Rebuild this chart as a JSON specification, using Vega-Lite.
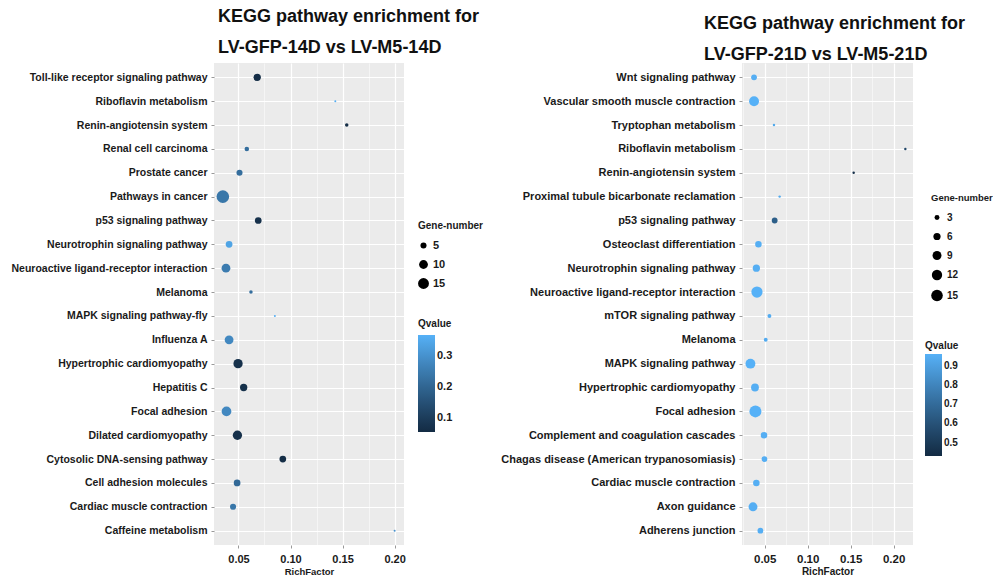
{
  "$schema": "https://vega.github.io/schema/vega-lite/v6.json",
  "background": "white",
  "padding": {"left": 10, "top": 8, "right": 0, "bottom": 0},
  "spacing": 16,
  "datasets": {
    "left": [
      {"pathway": "Toll-like receptor signaling pathway", "rich": 0.068, "gene": 7, "q": 0.06},
      {"pathway": "Riboflavin metabolism", "rich": 0.143, "gene": 1, "q": 0.36},
      {"pathway": "Renin-angiotensin system", "rich": 0.154, "gene": 2, "q": 0.06},
      {"pathway": "Renal cell carcinoma", "rich": 0.058, "gene": 3, "q": 0.22},
      {"pathway": "Prostate cancer", "rich": 0.051, "gene": 5, "q": 0.22},
      {"pathway": "Pathways in cancer", "rich": 0.035, "gene": 20, "q": 0.24},
      {"pathway": "p53 signaling pathway", "rich": 0.069, "gene": 6, "q": 0.07},
      {"pathway": "Neurotrophin signaling pathway", "rich": 0.041, "gene": 6, "q": 0.34},
      {"pathway": "Neuroactive ligand-receptor interaction", "rich": 0.038, "gene": 10, "q": 0.25},
      {"pathway": "Melanoma", "rich": 0.062, "gene": 2, "q": 0.22},
      {"pathway": "MAPK signaling pathway-fly", "rich": 0.085, "gene": 1, "q": 0.36},
      {"pathway": "Influenza A", "rich": 0.041, "gene": 10, "q": 0.28},
      {"pathway": "Hypertrophic cardiomyopathy", "rich": 0.0496, "gene": 11, "q": 0.07},
      {"pathway": "Hepatitis C", "rich": 0.055, "gene": 7, "q": 0.07},
      {"pathway": "Focal adhesion", "rich": 0.0385, "gene": 12, "q": 0.28},
      {"pathway": "Dilated cardiomyopathy", "rich": 0.049, "gene": 11, "q": 0.07},
      {"pathway": "Cytosolic DNA-sensing pathway", "rich": 0.0926, "gene": 6, "q": 0.06},
      {"pathway": "Cell adhesion molecules", "rich": 0.0487, "gene": 6, "q": 0.21},
      {"pathway": "Cardiac muscle contraction", "rich": 0.0448, "gene": 5, "q": 0.24},
      {"pathway": "Caffeine metabolism", "rich": 0.2, "gene": 1, "q": 0.3}
    ],
    "right": [
      {"pathway": "Wnt signaling pathway", "rich": 0.0376, "gene": 4, "q": 0.95},
      {"pathway": "Vascular smooth muscle contraction", "rich": 0.0376, "gene": 11, "q": 0.96},
      {"pathway": "Tryptophan metabolism", "rich": 0.0608, "gene": 1, "q": 0.93},
      {"pathway": "Riboflavin metabolism", "rich": 0.2136, "gene": 1, "q": 0.55},
      {"pathway": "Renin-angiotensin system", "rich": 0.1535, "gene": 1, "q": 0.45},
      {"pathway": "Proximal tubule bicarbonate reclamation", "rich": 0.0674, "gene": 1, "q": 0.93},
      {"pathway": "p53 signaling pathway", "rich": 0.0616, "gene": 4, "q": 0.65},
      {"pathway": "Osteoclast differentiation", "rich": 0.0427, "gene": 5, "q": 0.95},
      {"pathway": "Neurotrophin signaling pathway", "rich": 0.0403, "gene": 6, "q": 0.95},
      {"pathway": "Neuroactive ligand-receptor interaction", "rich": 0.041, "gene": 14, "q": 0.96},
      {"pathway": "mTOR signaling pathway", "rich": 0.0555, "gene": 2, "q": 0.94},
      {"pathway": "Melanoma", "rich": 0.0512, "gene": 2, "q": 0.94},
      {"pathway": "MAPK signaling pathway", "rich": 0.0334, "gene": 11, "q": 0.96},
      {"pathway": "Hypertrophic cardiomyopathy", "rich": 0.0387, "gene": 7, "q": 0.95},
      {"pathway": "Focal adhesion", "rich": 0.0392, "gene": 16, "q": 0.96},
      {"pathway": "Complement and coagulation cascades", "rich": 0.0492, "gene": 5, "q": 0.95},
      {"pathway": "Chagas disease (American trypanosomiasis)", "rich": 0.0497, "gene": 4, "q": 0.95},
      {"pathway": "Cardiac muscle contraction", "rich": 0.0403, "gene": 5, "q": 0.95},
      {"pathway": "Axon guidance", "rich": 0.0364, "gene": 9, "q": 0.95},
      {"pathway": "Adherens junction", "rich": 0.045, "gene": 4, "q": 0.95}
    ]
  },
  "hconcat": [
    {
      "data": {"name": "left"},
      "width": 190,
      "height": 482,
      "title": {"text": ["KEGG pathway enrichment for", "LV-GFP-14D vs LV-M5-14D"], "anchor": "start", "frame": "group", "dx": 4, "fontSize": 18, "fontWeight": "bold", "lineHeight": 31, "offset": 6, "color": "#111"},
      "mark": {"type": "circle", "opacity": 1},
      "encoding": {
        "y": {"field": "pathway", "type": "nominal", "sort": null, "scale": {"type": "point", "padding": 0.6},
          "axis": {"title": null, "labelFontSize": 10.5, "labelPadding": 4, "gridWidth": 1.2, "labelLimit": 0}},
        "x": {"field": "rich", "type": "quantitative", "scale": {"domain": [0.0265, 0.209], "nice": false, "zero": false},
          "axis": {"title": "RichFactor", "values": [0.05, 0.075, 0.1, 0.125, 0.15, 0.175, 0.2],
            "labelExpr": "round(datum.value*1000) % 50 == 0 ? format(datum.value, '.2f') : ''",
            "gridWidth": {"condition": {"test": "round(datum.value*1000) % 50 != 0", "value": 0.5}, "value": 1.2},
            "tickOpacity": {"condition": {"test": "round(datum.value*1000) % 50 != 0", "value": 0}, "value": 1},
            "labelFontSize": 11, "titleFontSize": 9.5, "labelPadding": 5, "titlePadding": 2, "labelFlush": false}},
        "size": {"field": "gene", "type": "quantitative", "title": "Gene-number",
          "scale": {"domain": [1, 20], "range": [4, 160], "zero": false},
          "legend": {"orient": "none", "legendX": 204, "legendY": 158, "values": [5, 10, 15], "symbolFillColor": "black", "symbolStrokeWidth": 0, "titleFontSize": 10, "titlePadding": 9, "rowPadding": 7}},
        "color": {"field": "q", "type": "quantitative", "title": "Qvalue",
          "scale": {"domain": [0.055, 0.368], "range": ["#132B43", "#56B1F7"], "interpolate": "lab"},
          "legend": {"orient": "none", "legendX": 204, "legendY": 256, "values": [0.1, 0.2, 0.3], "gradientLength": 97, "gradientThickness": 17, "titleFontSize": 10}}
      }
    },
    {
      "data": {"name": "right"},
      "width": 171,
      "height": 482,
      "title": {"text": ["KEGG pathway enrichment for", "LV-GFP-21D vs LV-M5-21D"], "anchor": "start", "frame": "group", "dx": -38, "fontSize": 18, "fontWeight": "bold", "lineHeight": 31, "offset": -1, "color": "#111"},
      "mark": {"type": "circle", "opacity": 1},
      "encoding": {
        "y": {"field": "pathway", "type": "nominal", "sort": null, "scale": {"type": "point", "padding": 0.6},
          "axis": {"title": null, "labelFontSize": 11, "labelPadding": 4, "gridWidth": 1.2, "labelLimit": 0}},
        "x": {"field": "rich", "type": "quantitative", "scale": {"domain": [0.0236, 0.2225], "nice": false, "zero": false},
          "axis": {"title": "RichFactor", "values": [0.025, 0.05, 0.075, 0.1, 0.125, 0.15, 0.175, 0.2],
            "labelExpr": "round(datum.value*1000) % 50 == 0 ? format(datum.value, '.2f') : ''",
            "gridWidth": {"condition": {"test": "round(datum.value*1000) % 50 != 0", "value": 0.5}, "value": 1.2},
            "tickOpacity": {"condition": {"test": "round(datum.value*1000) % 50 != 0", "value": 0}, "value": 1},
            "labelFontSize": 11.5, "titleFontSize": 10, "labelPadding": 5, "titlePadding": 2, "labelFlush": false}},
        "size": {"field": "gene", "type": "quantitative", "title": "Gene-number",
          "scale": {"domain": [1, 16], "range": [6, 144], "zero": false},
          "legend": {"orient": "none", "legendX": 189, "legendY": 130, "values": [3, 6, 9, 12, 15], "symbolFillColor": "black", "symbolStrokeWidth": 0, "titleFontSize": 9.5, "labelFontSize": 10, "titlePadding": 10, "rowPadding": 9}},
        "color": {"field": "q", "type": "quantitative", "title": "Qvalue",
          "scale": {"domain": [0.43, 0.96], "range": ["#132B43", "#56B1F7"], "interpolate": "lab"},
          "legend": {"orient": "none", "legendX": 183, "legendY": 278, "values": [0.5, 0.6, 0.7, 0.8, 0.9], "gradientLength": 102, "gradientThickness": 17, "titleFontSize": 10, "labelFontSize": 10, "titlePadding": 3}}
      }
    }
  ],
  "resolve": {"scale": {"color": "independent", "size": "independent", "x": "independent", "y": "independent"}, "legend": {"color": "independent", "size": "independent"}},
  "config": {
    "font": "Liberation Sans",
    "view": {"fill": "#EBEBEB", "stroke": null},
    "axis": {"domain": false, "grid": true, "gridColor": "white", "tickColor": "#999999", "tickSize": 3, "labelFontWeight": "bold", "labelColor": "#1a1a1a", "titleFontWeight": "bold", "titleColor": "#1a1a1a"},
    "legend": {"titleFontSize": 11, "titleFontWeight": "bold", "titleColor": "#1a1a1a", "labelFontSize": 11, "labelFontWeight": "bold", "labelColor": "#1a1a1a", "rowPadding": 6, "gradientStrokeWidth": 0, "titlePadding": 6}
  }
}
